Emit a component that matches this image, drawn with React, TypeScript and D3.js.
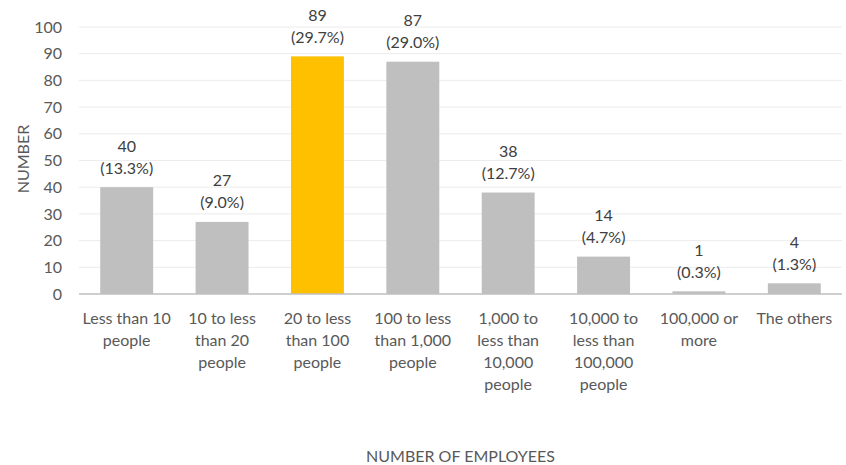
import React from "react";
import * as d3 from "d3";

const categoryLines: string[][] = [
  ["Less than 10", "people"],
  ["10 to less", "than 20", "people"],
  ["20 to less", "than 100", "people"],
  ["100 to less", "than 1,000", "people"],
  ["1,000 to", "less than", "10,000", "people"],
  ["10,000 to", "less than", "100,000", "people"],
  ["100,000 or", "more"],
  ["The others"],
];
const values: number[] = [40, 27, 89, 87, 38, 14, 1, 4];
const percentLabels: string[] = ["(13.3%)", "(9.0%)", "(29.7%)", "(29.0%)", "(12.7%)", "(4.7%)", "(0.3%)", "(1.3%)"];
const highlighted: number[] = [2];
const yTicks: number[] = [0, 10, 20, 30, 40, 50, 60, 70, 80, 90, 100];
const yTitle = "NUMBER";
const xTitle = "NUMBER OF EMPLOYEES";

const W = 846;
const H = 465;
const FONT = "Lato, 'Open Sans', sans-serif";

export default function App() {
  const left = 79, right = 842, top = 27, bottom = 294;
  const x = d3
    .scaleBand<number>()
    .domain(d3.range(values.length))
    .range([left, right])
    .paddingInner(0.445)
    .paddingOuter(0.2225);
  const y = d3.scaleLinear().domain([0, 100]).range([bottom, top]);
  const bw = x.bandwidth();

  return (
    <svg width={W} height={H} style={{ position: "absolute", left: 0, top: 0, background: "#fff" }} fontFamily={FONT}>
      {yTicks.map((t) => (
        <g key={t}>
          {t > 0 && <line x1={left} x2={right} y1={y(t)} y2={y(t)} stroke="#ececec" strokeWidth={1} />}
          <text x={62} y={y(t)} dy="0.35em" textAnchor="end" fontSize={16} fill="#595959">
            {t}
          </text>
        </g>
      ))}
      {values.map((v, i) => {
        const cx = (x(i) as number) + bw / 2;
        return (
          <g key={i}>
            <rect
              x={x(i)}
              y={y(v)}
              width={bw}
              height={bottom - y(v)}
              fill={highlighted.includes(i) ? "#ffc000" : "#bfbfbf"}
            />
            <text x={cx} y={y(v) - 13.5 - 22} textAnchor="middle" fontSize={16} fill="#404040">
              {v}
            </text>
            <text x={cx} y={y(v) - 13.5} textAnchor="middle" fontSize={16} fill="#404040">
              {percentLabels[i]}
            </text>
            {categoryLines[i].map((ln, j) => (
              <text key={j} x={cx} y={323.5 + j * 22} textAnchor="middle" fontSize={16} fill="#595959">
                {ln}
              </text>
            ))}
          </g>
        );
      })}
      <line x1={left} x2={right} y1={bottom} y2={bottom} stroke="#bfbfbf" strokeWidth={1.5} />
      <text
        transform={`translate(${29},${159}) rotate(-90)`}
        textAnchor="middle"
        fontSize={16}
        fill="#595959"
      >
        {yTitle}
      </text>
      <text x={(left + right) / 2} y={462} textAnchor="middle" fontSize={16} fill="#595959">
        {xTitle}
      </text>
    </svg>
  );
}
